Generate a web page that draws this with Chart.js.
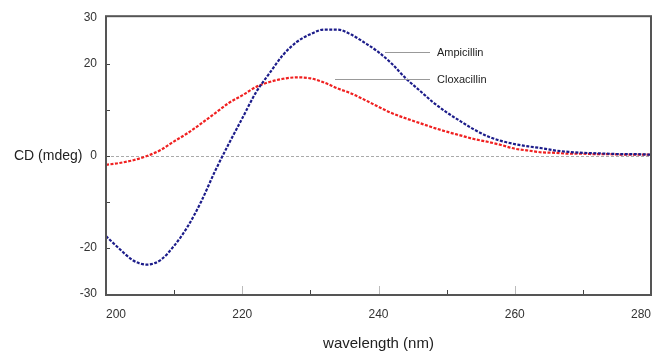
<!DOCTYPE html>
<html>
<head>
<meta charset="utf-8">
<script src="https://cdn.jsdelivr.net/npm/chart.js@4/dist/chart.umd.min.js"></script>
<style>
  html, body { margin: 0; padding: 0; background: #fff; }
  #wrap { width: 657px; height: 353px; }
</style>
</head>
<body>
<div id="wrap"><canvas id="cd"></canvas></div>
<script>
// wavelength (nm), every 2 nm
const wavelength = [200,202,204,206,208,210,212,214,216,218,220,222,224,226,228,230,232,234,236,238,240,
                    242,244,246,248,250,252,254,256,258,260,262,264,266,268,270,272,274,276,278,280]
const ampicillin = [-17.4,-20.2,-22.7,-23.6,-22.6,-19.5,-15.3,-9.8,-3.3,2.6,8.2,13.8,18.0,22.0,24.8,26.5,27.5,27.5,26.4,24.6,22.6,
                    20.0,16.9,14.3,11.7,9.5,7.6,5.8,4.3,3.3,2.6,2.1,1.7,1.2,0.9,0.7,0.6,0.5,0.4,0.4,0.3]
const cloxacillin = [-1.9,-1.5,-0.9,0.0,1.3,3.2,5.0,7.1,9.3,11.5,13.2,15.0,16.1,16.8,17.1,16.9,16.0,14.7,13.6,12.2,10.7,
                     9.3,8.2,7.2,6.2,5.3,4.5,3.7,3.1,2.4,1.6,1.2,0.8,0.7,0.5,0.5,0.4,0.4,0.3,0.3,0.3]
const xTicks = [200, 220, 240, 260, 280]
const yTicks = [30, 20, 10, 0, -10, -20, -30]
const yLabelled = [30, 20, 0, -20, -30]
const seriesNames = ["Ampicillin", "Cloxacillin"]

const font = "'Liberation Sans', Arial, sans-serif"

function pts(ys) {
  return wavelength.map((x, i) => ({ x: x, y: ys[i] }))
}

// frame, inward ticks, zero line, y title and the line labels
const extras = {
  id: "extras",
  beforeDatasetsDraw(chart) {
    const c = chart.ctx, a = chart.chartArea
    const ys = chart.scales.y
    c.save()
    c.strokeStyle = "#aaa"
    c.lineWidth = 1
    c.setLineDash([3, 2])
    const y0 = Math.round(ys.getPixelForValue(0)) + 0.5
    c.beginPath(); c.moveTo(a.left, y0); c.lineTo(a.right, y0); c.stroke()
    c.restore()
  },
  afterDraw(chart) {
    const c = chart.ctx, a = chart.chartArea
    const xs = chart.scales.x, ys = chart.scales.y
    c.save()
    // ticks
    c.lineWidth = 1
    for (let v = 210; v < 280; v += 10) {
      const px = Math.round(xs.getPixelForValue(v)) + 0.5
      const major = v % 20 === 0
      c.strokeStyle = major ? "#bbb" : "#444"
      c.beginPath(); c.moveTo(px, a.bottom); c.lineTo(px, a.bottom - (major ? 9 : 5)); c.stroke()
    }
    yTicks.forEach(v => {
      if (v === 30 || v === -30) return
      const py = Math.round(ys.getPixelForValue(v)) + 0.5
      c.strokeStyle = "#444"
      c.beginPath(); c.moveTo(a.left, py); c.lineTo(a.left + 4, py); c.stroke()
    })
    // frame
    c.strokeStyle = "#555"
    c.lineWidth = 2
    c.strokeRect(a.left, a.top, a.right - a.left, a.bottom - a.top)

    // y title
    c.fillStyle = "#222"
    c.font = "14px " + font
    c.textBaseline = "middle"
    c.textAlign = "left"
    c.fillText("CD (mdeg)", 14, ys.getPixelForValue(0))

    // labels with leader lines
    c.font = "11px " + font
    c.strokeStyle = "#999"
    c.lineWidth = 1
    const lab = [
      { name: seriesNames[0], x1: 385, y: 52.5 },
      { name: seriesNames[1], x1: 335, y: 79.5 }
    ]
    lab.forEach(l => {
      c.beginPath(); c.moveTo(l.x1, l.y); c.lineTo(430, l.y); c.stroke()
      c.fillText(l.name, 437, l.y)
    })
    c.restore()
  }
}

new Chart(document.getElementById("cd"), {
  type: "line",
  data: {
    datasets: [
      {
        label: seriesNames[0],
        data: pts(ampicillin),
        borderColor: "#1c1c8a",
        borderWidth: 2.2,
        borderDash: [3, 1.5],
        pointRadius: 0,
        cubicInterpolationMode: "monotone"
      },
      {
        label: seriesNames[1],
        data: pts(cloxacillin),
        borderColor: "#f02020",
        borderWidth: 2.2,
        borderDash: [3, 1.5],
        pointRadius: 0,
        cubicInterpolationMode: "monotone"
      }
    ]
  },
  options: {
    responsive: true,
    maintainAspectRatio: false,
    animation: false,
    layout: { padding: { left: 0, right: 6, top: 14, bottom: 0 } },
    plugins: {
      legend: { display: false },
      tooltip: { enabled: false }
    },
    scales: {
      x: {
        type: "linear",
        min: 200,
        max: 280,
        afterBuildTicks: s => { s.ticks = xTicks.map(v => ({ value: v })) },
        afterFit: s => { s.height = 58; s.paddingRight = 0; s.paddingLeft = 0 },
        grid: { display: false, drawTicks: false },
        border: { display: false },
        ticks: {
          color: "#333",
          font: { family: font, size: 12 },
          padding: 12,
          align: "inner",
          maxRotation: 0
        },
        title: {
          display: true,
          text: "wavelength (nm)",
          color: "#222",
          font: { family: font, size: 15 },
          padding: { top: 6, bottom: 0 }
        }
      },
      y: {
        min: -30.2,
        max: 30.4,
        afterBuildTicks: s => { s.ticks = yTicks.map(v => ({ value: v })) },
        afterFit: s => { s.width = 106 },
        grid: { display: false, drawTicks: false },
        border: { display: false },
        ticks: {
          color: "#333",
          font: { family: font, size: 12 },
          padding: 9,
          callback: v => yLabelled.includes(v) ? String(v) : ""
        }
      }
    }
  },
  plugins: [extras]
})
</script>
</body>
</html>
